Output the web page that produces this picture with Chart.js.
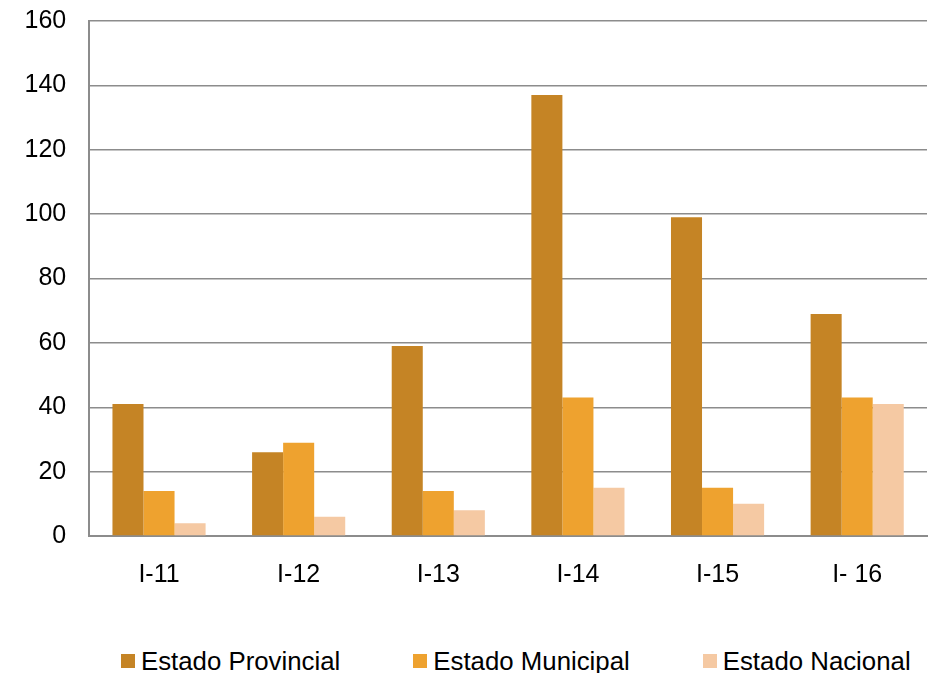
<!DOCTYPE html>
<html>
<head>
<meta charset="utf-8">
<script src="https://cdn.jsdelivr.net/npm/chart.js@4/dist/chart.umd.min.js"></script>
<style>
  body { margin: 0; background: #fff; overflow: hidden; }
  #wrap { position: relative; width: 935px; height: 673px; overflow: hidden; }
  #myChart { position: absolute; left: 0; top: -17px; }
  #legend {
    position: absolute; left: 121px; top: 648px; height: 26px;
    display: flex; align-items: center;
    font-family: "Liberation Sans", Arial, sans-serif; font-size: 25.8px; color: #000;
  }
  .item { display: flex; align-items: center; margin-right: 73px; white-space: nowrap; }
  .box { width: 14px; height: 14px; margin-right: 6px; }
</style>
</head>
<body>
<div id="wrap">
  <canvas id="myChart" width="935" height="635"></canvas>
  <div id="legend"></div>
</div>
<script>
const categories = ['I-11', 'I-12', 'I-13', 'I-14', 'I-15', 'I- 16'];
const provincial = [41, 26, 59, 137, 99, 69];
const municipal = [14, 29, 14, 43, 15, 43];
const nacional = [4, 6, 8, 15, 10, 41];

const seriesNames = ['Estado Provincial', 'Estado Municipal', 'Estado Nacional'];
const seriesColors = ['#c58425', '#eea22f', '#f5c9a3'];

const font = { family: '"Liberation Sans", Arial, sans-serif', size: 25 };
const gridGray = '#8c8c8c';

const datasets = [provincial, municipal, nacional].map(function(values, i) {
    return {
        label: seriesNames[i],
        data: values,
        backgroundColor: seriesColors[i],
        borderWidth: 0,
        categoryPercentage: 0.667,
        barPercentage: 1.0
    };
});

const ctx = document.getElementById('myChart').getContext('2d');
new Chart(ctx, {
    type: 'bar',
    data: { labels: categories, datasets: datasets },
    options: {
        responsive: false,
        animation: false,
        layout: { padding: { left: 1.5, right: 8, top: 0, bottom: 4 } },
        plugins: {
            legend: { display: false },
            tooltip: { enabled: false }
        },
        scales: {
            x: {
                grid: { display: false, drawTicks: false },
                border: { display: true, color: gridGray, width: 2 },
                ticks: { color: '#000', font: font, padding: 24 }
            },
            y: {
                min: 0,
                max: 160,
                grid: { color: gridGray, lineWidth: 1.5, drawTicks: false },
                border: { display: true, color: gridGray, width: 2 },
                ticks: { color: '#000', font: font, stepSize: 20, padding: 23 }
            }
        }
    }
});

// legend row under the plot
const legend = document.getElementById('legend');
seriesNames.forEach(function(name, i) {
    const item = document.createElement('div');
    item.className = 'item';
    item.innerHTML = '<span class="box" style="background:' + seriesColors[i] + '"></span>' + name;
    legend.appendChild(item);
});
</script>
</body>
</html>
